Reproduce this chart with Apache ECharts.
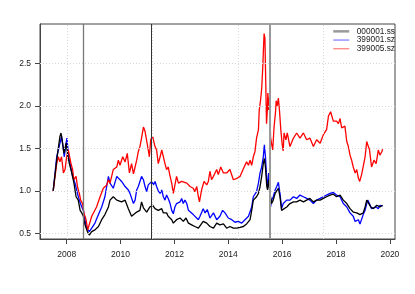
<!DOCTYPE html>
<html><head><meta charset="utf-8">
<script src="https://cdn.jsdelivr.net/npm/echarts@6/dist/echarts.min.js"></script>
<style>html,body{margin:0;padding:0;background:#fff}#c{width:415px;height:294px}</style>
</head><body><div id="c"></div>
<script>
const seriesNames = ['000001.ss', '399001.sz', '399005.sz'];
const xTickLabels = [2008, 2010, 2012, 2014, 2016, 2018, 2020];
const yTickLabels = [0.5, 1.0, 1.5, 2.0, 2.5];
const xGridYears = [2008.03, 2011.19, 2014.36, 2017.53];
const eventYears = [2008.605, 2011.15, 2015.53];

const tSS = [2007.50,2007.63,2007.75,2007.79,2007.85,2007.90,2007.98,2008.04,2008.10,2008.19,2008.27,2008.35,2008.43,2008.50,2008.56,2008.62,2008.68,2008.77,2008.84,2008.93,2009.05,2009.18,2009.30,2009.42,2009.55,2009.61,2009.73,2009.86,2009.92,2010.04,2010.17,2010.29,2010.41,2010.48,2010.60,2010.72,2010.78,2010.85,2010.97,2011.09,2011.19,2011.28,2011.40,2011.53,2011.59,2011.71,2011.77,2011.90,2011.96,2012.08,2012.21,2012.33,2012.43,2012.52,2012.64,2012.76,2012.89,2012.95,2013.07,2013.20,2013.32,2013.45,2013.57,2013.69,2013.82,2013.94,2014.06,2014.19,2014.31,2014.44,2014.56,2014.68,2014.81,2014.87,2014.93,2014.99,2015.05,2015.12,2015.18,2015.24,2015.30,2015.34,2015.38,2015.43,2015.46,2015.50,2015.55,2015.61,2015.67,2015.74,2015.80,2015.86,2015.92,2015.98,2016.04,2016.17,2016.29,2016.42,2016.54,2016.66,2016.79,2016.91,2017.03,2017.16,2017.28,2017.41,2017.53,2017.65,2017.78,2017.90,2018.02,2018.15,2018.27,2018.40,2018.52,2018.64,2018.77,2018.89,2018.95,2019.01,2019.08,2019.14,2019.20,2019.29,2019.39,2019.51,2019.63,2019.73];
const vSS = [1.00,1.36,1.64,1.68,1.56,1.44,1.56,1.42,1.32,1.21,1.09,0.93,0.89,0.77,0.74,0.70,0.60,0.52,0.48,0.52,0.54,0.58,0.66,0.72,0.81,0.89,0.93,0.89,0.91,0.87,0.89,0.79,0.70,0.68,0.75,0.77,0.87,0.80,0.75,0.81,0.83,0.79,0.77,0.79,0.74,0.74,0.70,0.66,0.62,0.66,0.68,0.64,0.68,0.62,0.60,0.58,0.56,0.58,0.64,0.62,0.58,0.56,0.62,0.60,0.61,0.56,0.58,0.56,0.56,0.57,0.58,0.61,0.66,0.77,0.89,0.91,0.93,0.97,1.05,1.17,1.32,1.38,1.28,1.05,1.01,1.13,0.97,0.85,0.89,0.97,0.99,1.03,0.93,0.77,0.79,0.81,0.85,0.87,0.87,0.89,0.87,0.89,0.91,0.87,0.89,0.89,0.91,0.93,0.95,0.96,0.93,0.95,0.89,0.85,0.79,0.75,0.74,0.72,0.70,0.74,0.81,0.89,0.87,0.81,0.79,0.83,0.81,0.83];

const tSZ1 = [2007.50,2007.63,2007.69,2007.78,2007.81,2007.88,2007.91,2007.98,2008.01,2008.06,2008.15,2008.22,2008.31,2008.40,2008.47,2008.56,2008.62,2008.68,2008.74,2008.84,2008.93,2009.05,2009.18,2009.30,2009.42,2009.55,2009.61,2009.73,2009.86,2009.92,2010.04,2010.17,2010.29,2010.35,2010.48,2010.54,2010.60,2010.66,2010.72,2010.78,2010.85,2010.91,2010.97,2011.03,2011.09,2011.16,2011.22,2011.28,2011.34,2011.40,2011.47,2011.53,2011.59,2011.65,2011.71,2011.77,2011.84,2011.90,2011.96,2012.02,2012.08,2012.21,2012.27,2012.33,2012.39,2012.46,2012.52,2012.58,2012.70,2012.76,2012.89,2012.95,2013.07,2013.14,2013.22,2013.32,2013.45,2013.57,2013.69,2013.79,2013.88,2014.00,2014.13,2014.25,2014.37,2014.50,2014.62,2014.75,2014.81,2014.87,2014.93,2014.99,2015.05,2015.12,2015.18,2015.24,2015.30,2015.34,2015.38,2015.43,2015.46,2015.50,2015.53,2015.57,2015.61,2015.67,2015.74,2015.80,2015.86,2015.92,2015.98,2016.04,2016.17,2016.29,2016.42,2016.54,2016.66,2016.79,2016.91,2017.03,2017.16,2017.28,2017.41,2017.53,2017.65,2017.78,2017.90,2018.02,2018.15,2018.27,2018.40,2018.52,2018.64,2018.71,2018.83,2018.89,2018.95,2019.01,2019.08,2019.14,2019.18,2019.24,2019.32,2019.39,2019.49,2019.57,2019.63,2019.73];
const vSZ1 = [1.00,1.40,1.48,1.60,1.64,1.48,1.40,1.56,1.62,1.44,1.28,1.17,1.09,0.97,0.89,0.81,0.77,0.66,0.56,0.52,0.56,0.62,0.72,0.81,0.93,1.17,1.09,1.03,1.17,1.19,1.11,1.05,1.01,0.97,0.85,0.89,1.01,1.05,1.11,1.17,1.13,1.05,0.99,1.07,1.09,1.11,1.07,1.11,1.05,1.00,0.97,1.01,0.93,0.89,0.95,0.91,0.85,0.77,0.73,0.81,0.85,0.87,0.91,0.85,0.89,0.85,0.77,0.79,0.72,0.74,0.66,0.70,0.79,0.74,0.78,0.68,0.74,0.66,0.70,0.77,0.74,0.68,0.66,0.63,0.64,0.62,0.66,0.70,0.70,0.81,0.93,0.95,0.99,1.09,1.21,1.28,1.40,1.54,1.40,1.13,1.05,1.21,1.05,0.81,0.89,0.93,1.01,1.05,1.10,0.97,0.79,0.85,0.89,0.89,0.93,0.91,0.95,0.93,0.91,0.89,0.85,0.89,0.91,0.93,0.95,0.97,0.98,0.95,0.93,0.85,0.81,0.74,0.70,0.64,0.66,0.61,0.63,0.72,0.77,0.85,0.89,0.85,0.79,0.77,0.81,0.79,0.83,0.82];

const tSZ5 = [2007.50,2007.63,2007.69,2007.75,2007.81,2007.88,2007.94,2008.00,2008.06,2008.12,2008.16,2008.22,2008.27,2008.35,2008.40,2008.47,2008.52,2008.59,2008.64,2008.72,2008.78,2008.84,2008.93,2008.99,2009.11,2009.24,2009.36,2009.49,2009.55,2009.61,2009.73,2009.86,2009.92,2009.98,2010.08,2010.17,2010.25,2010.33,2010.41,2010.48,2010.54,2010.60,2010.66,2010.72,2010.78,2010.85,2010.91,2010.97,2011.03,2011.07,2011.12,2011.19,2011.28,2011.34,2011.40,2011.47,2011.53,2011.59,2011.65,2011.71,2011.77,2011.84,2011.90,2011.96,2012.02,2012.08,2012.15,2012.21,2012.27,2012.33,2012.46,2012.58,2012.70,2012.76,2012.83,2012.89,2012.93,2013.01,2013.10,2013.20,2013.26,2013.32,2013.38,2013.45,2013.57,2013.63,2013.72,2013.82,2013.94,2014.06,2014.19,2014.25,2014.34,2014.44,2014.56,2014.68,2014.75,2014.81,2014.87,2014.93,2014.99,2015.05,2015.12,2015.15,2015.20,2015.24,2015.28,2015.31,2015.33,2015.36,2015.39,2015.42,2015.45,2015.47,2015.50,2015.53,2015.57,2015.61,2015.65,2015.70,2015.75,2015.78,2015.82,2015.86,2015.90,2015.95,2016.00,2016.04,2016.07,2016.14,2016.19,2016.29,2016.42,2016.54,2016.66,2016.79,2016.91,2017.03,2017.16,2017.28,2017.41,2017.53,2017.65,2017.72,2017.80,2017.90,2018.02,2018.09,2018.15,2018.21,2018.27,2018.33,2018.40,2018.46,2018.52,2018.58,2018.64,2018.71,2018.77,2018.83,2018.88,2018.95,2019.01,2019.08,2019.14,2019.20,2019.24,2019.32,2019.41,2019.49,2019.57,2019.63,2019.70,2019.73];
const vSZ5 = [1.00,1.32,1.40,1.34,1.40,1.21,1.25,1.40,1.48,1.50,1.32,1.25,1.13,1.17,1.05,0.97,0.89,0.85,0.74,0.66,0.54,0.56,0.70,0.72,0.81,0.93,1.03,1.07,1.13,1.09,1.25,1.28,1.36,1.30,1.40,1.34,1.44,1.21,1.32,1.20,1.28,1.36,1.46,1.52,1.62,1.75,1.70,1.68,1.48,1.40,1.60,1.64,1.52,1.48,1.32,1.40,1.48,1.40,1.32,1.25,1.28,1.17,1.09,0.97,1.07,1.17,1.09,1.11,1.11,1.13,1.09,1.05,1.03,0.99,1.05,0.93,0.87,1.01,1.11,1.07,1.11,1.23,1.13,1.17,1.25,1.19,1.28,1.21,1.21,1.25,1.13,1.11,1.15,1.17,1.26,1.34,1.30,1.36,1.30,1.40,1.46,1.62,1.72,1.95,2.07,2.20,2.45,2.70,2.85,2.80,2.30,1.79,1.95,2.15,1.95,2.10,1.63,1.55,1.48,1.75,1.91,2.06,2.00,2.09,1.95,1.72,1.55,1.47,1.68,1.60,1.68,1.52,1.62,1.68,1.62,1.68,1.60,1.62,1.52,1.60,1.56,1.66,1.72,1.88,1.93,1.82,1.82,1.79,1.85,1.74,1.72,1.76,1.58,1.52,1.42,1.36,1.28,1.21,1.25,1.15,1.11,1.19,1.20,1.40,1.58,1.52,1.49,1.28,1.36,1.32,1.48,1.42,1.46,1.49];

const zip = (t, v) => t.map((x, i) => [x, v[i]]);
const FONT = '"Liberation Sans", Arial, Helvetica, sans-serif';

const chart = echarts.init(document.getElementById('c'), null, {renderer: 'canvas'});
const lineSeries = (name, t, v, color, z) => ({
  name, type: 'line', data: zip(t, v), symbol: 'none', showSymbol: false,
  lineStyle: {color, width: 1.3}, itemStyle: {color}, z, silent: true
});
const hiddenSymbol = {color: 'rgba(0,0,0,0)', borderWidth: 0, borderColor: 'rgba(0,0,0,0)'};

chart.setOption({
  animation: false,
  backgroundColor: '#fff',
  textStyle: {fontFamily: FONT},
  grid: {left: 40, right: 20, top: 24, bottom: 55, show: true, borderColor: '#444', borderWidth: 1, backgroundColor: 'transparent'},
  xAxis: {
    type: 'value', min: 2007.01, max: 2020.19,
    axisLine: {show: true, lineStyle: {color: '#444', width: 1}},
    axisTick: {show: true, length: 5, lineStyle: {color: '#444'}, customValues: xTickLabels},
    axisLabel: {customValues: xTickLabels, color: '#222', fontSize: 8.5, fontFamily: FONT, margin: 11, formatter: v => String(v)},
    splitLine: {show: false}
  },
  yAxis: {
    type: 'value', min: 0.433, max: 2.962,
    axisLine: {show: true, lineStyle: {color: '#444', width: 1}},
    axisTick: {show: true, length: 5, lineStyle: {color: '#444'}, customValues: yTickLabels},
    axisLabel: {customValues: yTickLabels, color: '#222', fontSize: 8.5, fontFamily: FONT, margin: 9, formatter: v => v.toFixed(1)},
    splitLine: {show: false}
  },
  legend: {
    orient: 'vertical', right: 20, top: 27, padding: 0,
    itemWidth: 16, itemHeight: 8.7, itemGap: 0,
    textStyle: {fontSize: 8.3, color: '#222', fontFamily: FONT, lineHeight: 8.7, padding: [0, 0, 0, 2.5]},
    data: [
      {name: seriesNames[0], lineStyle: {color: '#9a9a9a', width: 2.5}, itemStyle: hiddenSymbol},
      {name: seriesNames[1], lineStyle: {color: '#7a7aff', width: 1.2}, itemStyle: hiddenSymbol},
      {name: seriesNames[2], lineStyle: {color: '#ff7a7a', width: 1.2}, itemStyle: hiddenSymbol}
    ],
    selectedMode: false
  },
  series: [
    {
      name: 'grid', type: 'line', data: [], silent: true, z: 1,
      markLine: {
        silent: true, symbol: ['none', 'none'], label: {show: false},
        lineStyle: {color: '#d8d8d8', type: [1, 2], width: 1},
        data: xGridYears.map(x => ({xAxis: x})).concat(yTickLabels.map(y => ({yAxis: y})))
      }
    },
    lineSeries(seriesNames[1], tSZ1, vSZ1, '#0000ff', 2),
    lineSeries(seriesNames[2], tSZ5, vSZ5, '#ff0000', 3),
    lineSeries(seriesNames[0], tSS, vSS, '#000000', 4),
    {
      name: 'events', type: 'line', data: [], silent: true, z: 5,
      markLine: {
        silent: true, symbol: ['none', 'none'], label: {show: false},
        data: [
          {xAxis: eventYears[0], lineStyle: {color: '#777', width: 1.3, type: 'solid'}},
          {xAxis: eventYears[1], lineStyle: {color: '#333', width: 1, type: 'solid'}},
          {xAxis: eventYears[2], lineStyle: {color: '#999', width: 2, type: 'solid'}}
        ]
      }
    }
  ]
});
</script></body></html>
